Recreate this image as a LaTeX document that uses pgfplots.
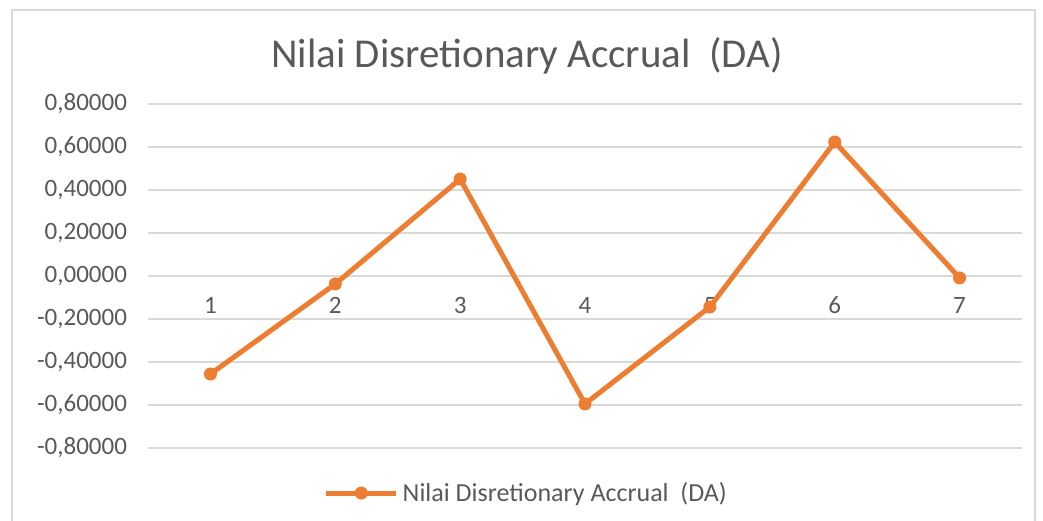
\documentclass[border=0pt]{standalone}
\usepackage{pgfplots}
\pgfplotsset{compat=1.18}
\usepackage{fontspec}
\setmainfont{Carlito}
\definecolor{exorange}{HTML}{ED7D31}
\definecolor{exgrid}{HTML}{D9D9D9}
\definecolor{extext}{HTML}{595959}
\begin{document}
\begin{tikzpicture}
\path[use as bounding box] (0,0) rectangle (521.5pt,260pt);
\draw[exgrid, line width=0.6pt] (6pt,-5pt) rectangle (517.5pt,255pt);
\begin{axis}[
  at={(74pt,36pt)}, anchor=south west,
  scale only axis, width=437pt, height=172pt,
  xmin=0.5, xmax=7.5, ymin=-0.8, ymax=0.8,
  axis x line*=middle, axis y line*=left,
  axis line style={draw=none},
  xtick={1,2,3,4,5,6,7}, ytick={-0.8,-0.6,...,0.8},
  major tick length=0pt,
  ymajorgrids, grid style={exgrid, line width=0.8pt},
  tick label style={font=\fontsize{12.5}{14}\selectfont, text=extext},
  xticklabel style={yshift=-7pt},
  yticklabel style={xshift=-7pt},
  /pgf/number format/assume math mode=true,
  yticklabel={\pgfmathprintnumber[fixed, fixed zerofill, precision=5, use comma]{\tick}},
  legend style={at={(0.434,-0.131)}, anchor=center, draw=none, fill=none,
    font=\fontsize{13}{15}\selectfont, text=extext},
  legend image code/.code={\draw[#1, mark repeat=2, mark phase=2] plot coordinates {(0pt,0pt)(17.5pt,0pt)(35pt,0pt)};},
]
\addplot[exorange, line width=2.5pt, mark=*, mark size=3pt, mark options={fill=exorange, draw=exorange, line width=0.5pt}]
  coordinates {(1,-0.456)(2,-0.037)(3,0.451)(4,-0.595)(5,-0.144)(6,0.623)(7,-0.009)};
\addlegendentry{Nilai Disretionary Accrual\ \ (DA)}
\end{axis}
\node[text=extext, font=\fontsize{20.5}{24}\selectfont] at (263.5pt,232pt) {Nilai Disretionary Accrual\ \ (DA)};
\end{tikzpicture}
\end{document}
